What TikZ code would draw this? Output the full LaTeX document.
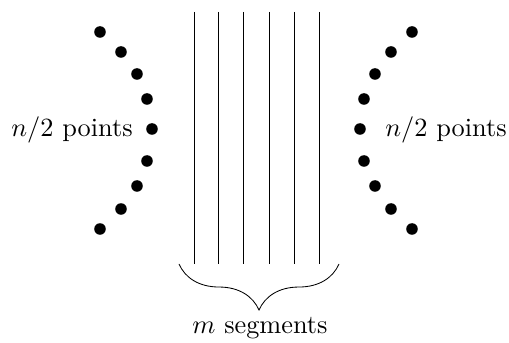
\documentclass[tikz,border=0pt]{standalone}
\usetikzlibrary{decorations.pathreplacing}
\begin{document}
\begin{tikzpicture}[x=0.38pt,y=-0.38pt,
  pt/.style={circle,fill=black,inner sep=0pt,minimum size=4.4pt},
  seg/.style={line width=0.32pt},
  lbl/.style={inner sep=0pt}]
\useasboundingbox (0,0) rectangle (509,343);
% left points
\foreach \i/\x/\y in {1/100/32,2/121/52,3/137/74,4/147/99,5/152/129,6/147/161,7/137/186,8/121/209,9/100/229}
  \node[pt] (l\i) at (\x,\y) {};
% right points
\foreach \i/\x/\y in {1/412/32,2/391/52,3/375/74,4/364/99,5/360/129,6/364/161,7/375/186,8/391/209,9/412/229}
  \node[pt] (r\i) at (\x,\y) {};
% segments
\foreach \i/\x in {1/194,2/218,3/243,4/269,5/294,6/319} {
  \coordinate (st\i) at (\x,12);
  \coordinate (sb\i) at (\x,264);
  \draw[seg] (st\i) -- (sb\i);
}
% brace
\coordinate (bl) at (179,264);
\coordinate (br) at (339,264);
\draw[seg,decorate,decoration={brace,mirror,amplitude=17.5pt}] (bl) -- (br);
\node[lbl] (m) at (260,328) {$m$ segments};
\node[lbl] (ln) at (72,130) {$n/2$ points};
\node[lbl] (rn) at (446,130) {$n/2$ points};
\end{tikzpicture}
\end{document}
